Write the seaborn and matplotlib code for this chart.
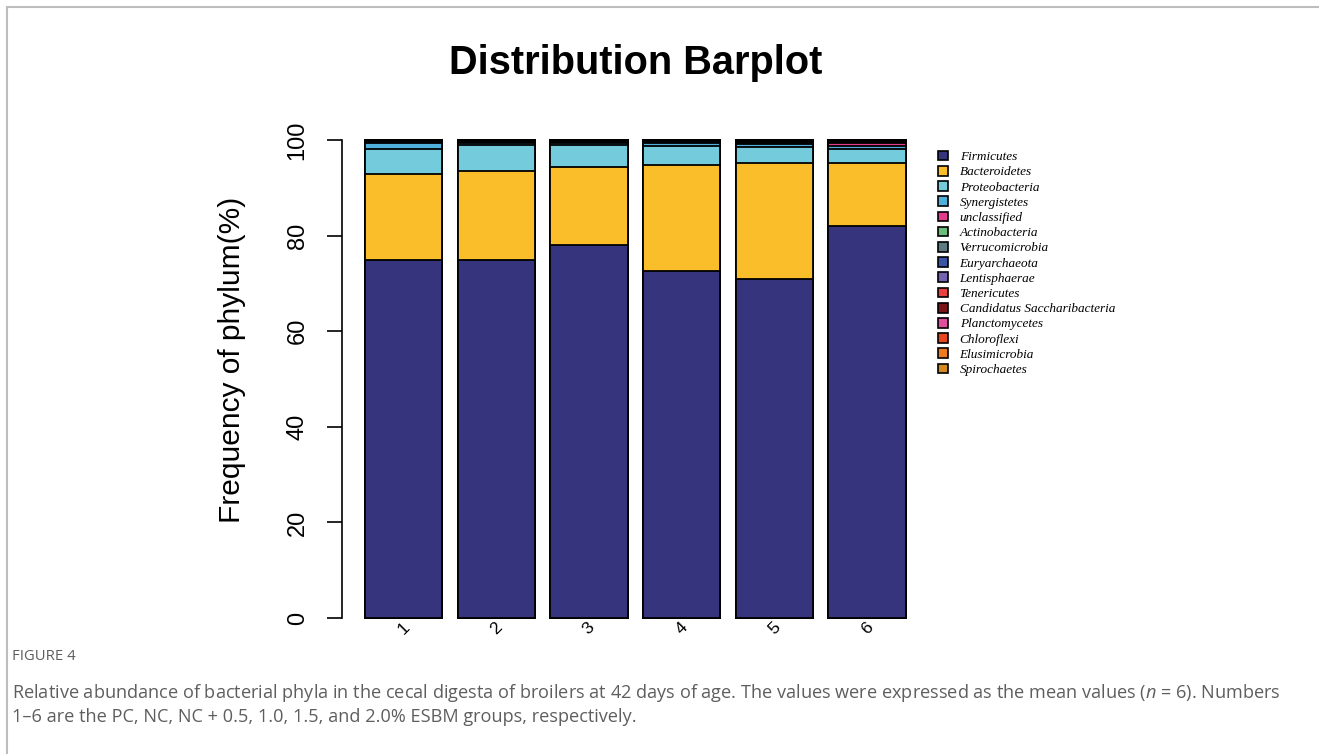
import numpy as np
import pandas as pd
import matplotlib
matplotlib.use("Agg")
import matplotlib.pyplot as plt
import seaborn as sns
from matplotlib.patches import Patch
from matplotlib.lines import Line2D
from matplotlib.font_manager import FontProperties

# Groups (1-6: PC, NC, NC+0.5, 1.0, 1.5, 2.0% ESBM)
groups = ["1", "2", "3", "4", "5", "6"]

phyla = [
    "Firmicutes", "Bacteroidetes", "Proteobacteria", "Synergistetes",
    "unclassified", "Actinobacteria", "Verrucomicrobia", "Euryarchaeota",
    "Lentisphaerae", "Tenericutes", "Candidatus Saccharibacteria",
    "Planctomycetes", "Chloroflexi", "Elusimicrobia", "Spirochaetes",
]

# Relative abundance (%) per phylum across the six groups
firmicutes = [74.9, 74.9, 78.0, 72.6, 70.9, 82.0]
bacteroidetes = [18.0, 18.6, 16.4, 22.2, 24.3, 13.2]
proteobacteria = [5.2, 5.5, 4.6, 3.9, 3.3, 2.9]
synergistetes = [1.3, 0.3, 0.3, 0.6, 0.6, 0.6]
unclassified = [0.15, 0.2, 0.2, 0.15, 0.3, 0.7]
actinobacteria = [0.12, 0.15, 0.12, 0.15, 0.15, 0.2]
verrucomicrobia = [0.1, 0.12, 0.13, 0.12, 0.12, 0.1]
euryarchaeota = [0.08, 0.08, 0.1, 0.1, 0.1, 0.1]
lentisphaerae = [0.05, 0.05, 0.05, 0.06, 0.08, 0.05]
tenericutes = [0.04, 0.04, 0.04, 0.05, 0.05, 0.05]
saccharibacteria = [0.02, 0.02, 0.02, 0.03, 0.03, 0.03]
planctomycetes = [0.02, 0.02, 0.02, 0.02, 0.03, 0.03]
chloroflexi = [0.01, 0.01, 0.01, 0.01, 0.02, 0.02]
elusimicrobia = [0.01, 0.01, 0.01, 0.01, 0.01, 0.01]
spirochaetes = [0.01, 0.01, 0.01, 0.01, 0.01, 0.01]

colors = [
    "#37347e", "#f9be2a", "#73cbdb", "#4fb0db", "#e23c8c", "#6cbd7c",
    "#5e7b81", "#3a56a6", "#7463b0", "#e8413f", "#7a1519", "#e04f9b",
    "#e8461f", "#ee7b1f", "#d38b20",
]

values = np.array([
    firmicutes, bacteroidetes, proteobacteria, synergistetes, unclassified,
    actinobacteria, verrucomicrobia, euryarchaeota, lentisphaerae,
    tenericutes, saccharibacteria, planctomycetes, chloroflexi,
    elusimicrobia, spirochaetes,
])
cumulative = np.cumsum(values, axis=0)

sns.set_style("white")
plt.rcParams["font.family"] = ["Liberation Sans", "DejaVu Sans"]
plt.rcParams["text.color"] = "black"
plt.rcParams["axes.labelcolor"] = "black"
plt.rcParams["xtick.color"] = "black"
plt.rcParams["ytick.color"] = "black"
plt.rcParams["mathtext.fontset"] = "custom"
plt.rcParams["mathtext.it"] = "Open Sans:italic"
plt.rcParams["mathtext.rm"] = "Open Sans"

fig = plt.figure(figsize=(13.19, 7.54), dpi=100)
ax = fig.add_axes([0.2593, 0.155, 0.4559, 0.6847])

# Stacked bars: draw cumulative totals from the top layer down
for i in range(len(phyla) - 1, -1, -1):
    df = pd.DataFrame({"group": groups, "cum": cumulative[i]})
    sns.barplot(data=df, x="group", y="cum", color=colors[i], saturation=1,
                width=1 / 1.2, edgecolor="black", linewidth=1.3,
                errorbar=None, ax=ax)

ax.set_xlim(-0.663, 5.823)
ax.set_ylim(-4, 104)
ax.set_xlabel("")
ax.set_ylabel("")
for side in ["top", "right", "bottom"]:
    ax.spines[side].set_visible(False)
ax.spines["left"].set_bounds(0, 100)
ax.spines["left"].set_color("black")
ax.spines["left"].set_linewidth(1.2)

ax.set_yticks([0, 20, 40, 60, 80, 100])
ax.set_yticklabels(["0", "20", "40", "60", "80", "100"], rotation=90, va="center")
ax.tick_params(axis="y", left=True, length=11, width=1.2, color="black",
               labelsize=17, pad=13, labelcolor="black")
ax.set_xticks(range(len(groups)))
ax.set_xticklabels(groups, rotation=45, ha="center", va="center",
                   rotation_mode="anchor")
ax.tick_params(axis="x", bottom=False, length=0, labelsize=12.5, pad=-6,
               labelcolor="black")

ax.text(-0.183, 0.537, "Frequency of phylum(%)", transform=ax.transAxes,
        rotation=90, ha="center", va="center", fontsize=21.5, color="black")

fig.text(0.482, 0.917, "Distribution Barplot", ha="center", va="center",
         fontsize=28.6, fontweight="bold", color="black")

handles = [Patch(facecolor=c, edgecolor="black", linewidth=1.2) for c in colors]
fig.legend(handles, phyla, loc="upper left", bbox_to_anchor=(0.711, 0.800),
           frameon=False, prop=FontProperties(family="Liberation Serif",
                                              style="italic", size=9.5),
           handlelength=0.75, handleheight=0.75, handletextpad=0.9,
           labelspacing=0.21, borderpad=0.0, borderaxespad=0.0)

cap_color = "#5e5e5e"
fig.text(12 / 1319, 1 - 657 / 754, "FIGURE 4", ha="left", va="center",
         fontsize=10.7, color=cap_color, family="Open Sans")
fig.text(12 / 1319, 1 - 693 / 754,
         "Relative abundance of bacterial phyla in the cecal digesta of broilers "
         "at 42 days of age. The values were expressed as the mean values "
         "($\\it{n}$ = 6). Numbers",
         ha="left", va="center", fontsize=13.1, color=cap_color, family="Open Sans")
fig.text(12 / 1319, 1 - 717 / 754,
         "1–6 are the PC, NC, NC + 0.5, 1.0, 1.5, and 2.0% ESBM groups, respectively.",
         ha="left", va="center", fontsize=13.1, color=cap_color, family="Open Sans")

frame = "#bdbdbd"
fig.add_artist(Line2D([7 / 1319, 1.0], [1 - 7 / 754, 1 - 7 / 754],
                      transform=fig.transFigure, color=frame, lw=1.5))
fig.add_artist(Line2D([7 / 1319, 7 / 1319], [0.0, 1 - 7 / 754],
                      transform=fig.transFigure, color=frame, lw=1.5))

fig.savefig("out.png", dpi=100, facecolor="white")
